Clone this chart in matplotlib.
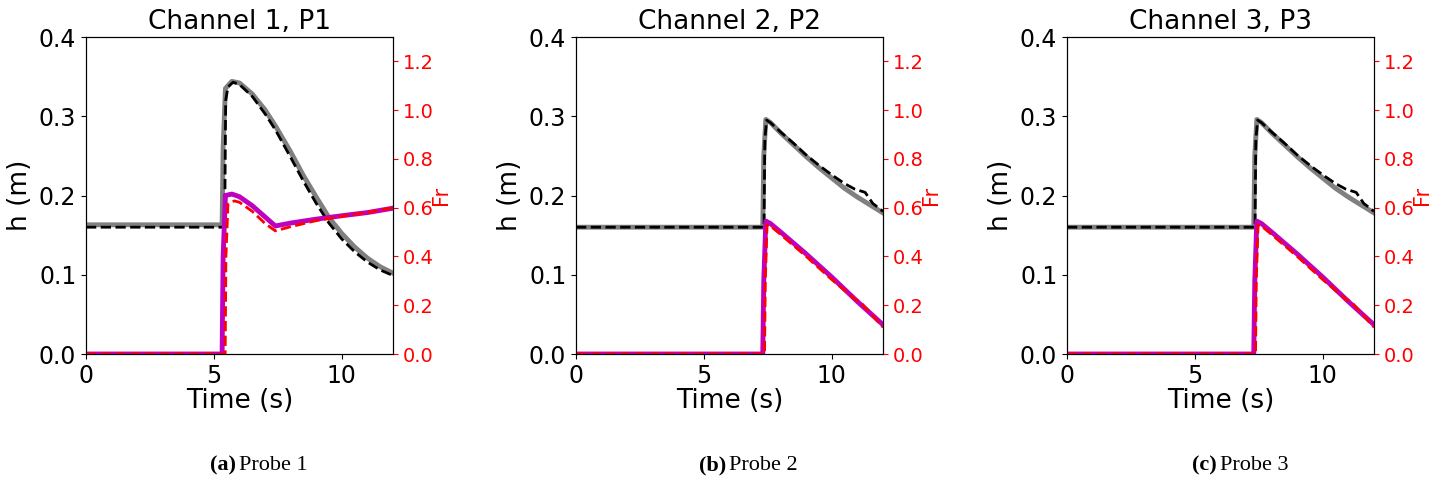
import matplotlib
matplotlib.use("Agg")
import matplotlib.pyplot as plt
import numpy as np

titles = ["Channel 1, P1", "Channel 2, P2", "Channel 3, P3"]
captions = [("(a)", "Probe 1"), ("(b)", "Probe 2"), ("(c)", "Probe 3")]

# Panel 1
t1_h_sim = [0, 5.32, 5.36, 5.45, 5.7, 6.0, 6.5, 7.0, 7.4, 8.0, 8.5, 9.0, 9.5, 10.0, 10.5, 11.0, 11.5, 12]
h1_sim = [0.163, 0.163, 0.26, 0.335, 0.344, 0.342, 0.328, 0.308, 0.288, 0.255, 0.225, 0.198, 0.172, 0.152, 0.135, 0.121, 0.110, 0.102]
t1_h_ref = [0, 5.42, 5.46, 5.55, 5.75, 6.0, 6.5, 7.0, 7.4, 8.0, 8.5, 9.0, 9.5, 10.0, 10.5, 11.0, 11.5, 12]
h1_ref = [0.160, 0.160, 0.32, 0.337, 0.343, 0.340, 0.325, 0.303, 0.283, 0.248, 0.218, 0.19, 0.165, 0.145, 0.129, 0.116, 0.106, 0.099]
t1_f_sim = [0, 5.32, 5.36, 5.45, 5.7, 6.0, 6.5, 7.0, 7.4, 8.0, 9.0, 10.0, 11.0, 12]
f1_sim = [0.0, 0.0, 0.4, 0.650, 0.656, 0.645, 0.608, 0.562, 0.525, 0.537, 0.553, 0.567, 0.58, 0.598]
t1_f_ref = [0, 5.44, 5.47, 5.55, 5.8, 6.0, 6.5, 7.0, 7.4, 8.0, 9.0, 10.0, 11.0, 12]
f1_ref = [0.0, 0.0, 0.4, 0.615, 0.628, 0.622, 0.585, 0.535, 0.505, 0.522, 0.547, 0.565, 0.58, 0.6]

# Panel 2 / 3
t2_h_sim = [0, 7.3, 7.34, 7.42, 7.6, 8.0, 8.5, 9.0, 9.5, 10.0, 10.5, 11.0, 11.5, 12]
h2_sim = [0.16, 0.16, 0.25, 0.296, 0.292, 0.279, 0.264, 0.249, 0.235, 0.222, 0.209, 0.198, 0.188, 0.178]
t2_h_ref = [0, 7.35, 7.38, 7.45, 7.6, 8.0, 8.5, 9.0, 9.5, 10.0, 10.5, 10.9, 11.1, 11.3, 11.6, 12]
h2_ref = [0.16, 0.16, 0.27, 0.295, 0.292, 0.28, 0.266, 0.251, 0.238, 0.226, 0.215, 0.208, 0.206, 0.204, 0.19, 0.18]
t2_f_sim = [0, 7.3, 7.34, 7.42, 7.6, 8.0, 9.0, 10.0, 11.0, 12]
f2_sim = [0.0, 0.0, 0.3, 0.545, 0.535, 0.5, 0.41, 0.315, 0.215, 0.12]
t2_f_ref = [0, 7.37, 7.4, 7.47, 7.6, 8.0, 9.0, 10.0, 10.9, 11.1, 11.4, 12]
f2_ref = [0.0, 0.0, 0.3, 0.53, 0.525, 0.49, 0.4, 0.305, 0.225, 0.215, 0.18, 0.11]

panels = [
    (t1_h_sim, h1_sim, t1_h_ref, h1_ref, t1_f_sim, f1_sim, t1_f_ref, f1_ref),
    (t2_h_sim, h2_sim, t2_h_ref, h2_ref, t2_f_sim, f2_sim, t2_f_ref, f2_ref),
    (t2_h_sim, h2_sim, t2_h_ref, h2_ref, t2_f_sim, f2_sim, t2_f_ref, f2_ref),
]

fig = plt.figure(figsize=(14.46, 4.9), dpi=100)
lefts = [86, 576, 1067]
W, H = 1446, 490
for i, (ths, hs, thr, hr, tfs, fs, tfr, fr) in enumerate(panels):
    ax = fig.add_axes([lefts[i] / W, 1 - 354 / H, 307 / W, 317 / H])
    ax.plot(ths, hs, color="gray", lw=3.5)
    ax.plot(thr, hr, color="black", lw=2, ls="--")
    ax.set_xlim(0, 12)
    ax.set_ylim(0, 0.4)
    ax.set_xticks([0, 5, 10])
    ax.set_yticks([0, 0.1, 0.2, 0.3, 0.4])
    ax.tick_params(labelsize=17)
    ax.set_xlabel("Time (s)", fontsize=19, labelpad=0)
    ax.set_ylabel("h (m)", fontsize=19)
    ax.set_title(titles[i], fontsize=19)
    ax2 = ax.twinx()
    ax2.plot(tfs, fs, color="m", lw=3.5)
    ax2.plot(tfr, fr, color="red", lw=2, ls="--")
    ax2.set_ylim(0, 1.3)
    ax2.set_yticks([0, 0.2, 0.4, 0.6, 0.8, 1.0, 1.2])
    ax2.tick_params(labelsize=14, colors="red")
    ax2.spines["right"].set_color("black")
    ax2.set_ylabel("Fr", color="red", fontsize=15, labelpad=-2)
    cx = (lefts[i] + 153) / W
    fig.text(cx - 0.002, 1 - 465 / H, captions[i][0], ha="right", va="center",
             fontsize=16, family="Liberation Serif", fontweight="bold")
    fig.text(cx, 1 - 465 / H, captions[i][1], ha="left", va="center",
             fontsize=16, family="Liberation Serif")

fig.savefig("out.png", dpi=100)
